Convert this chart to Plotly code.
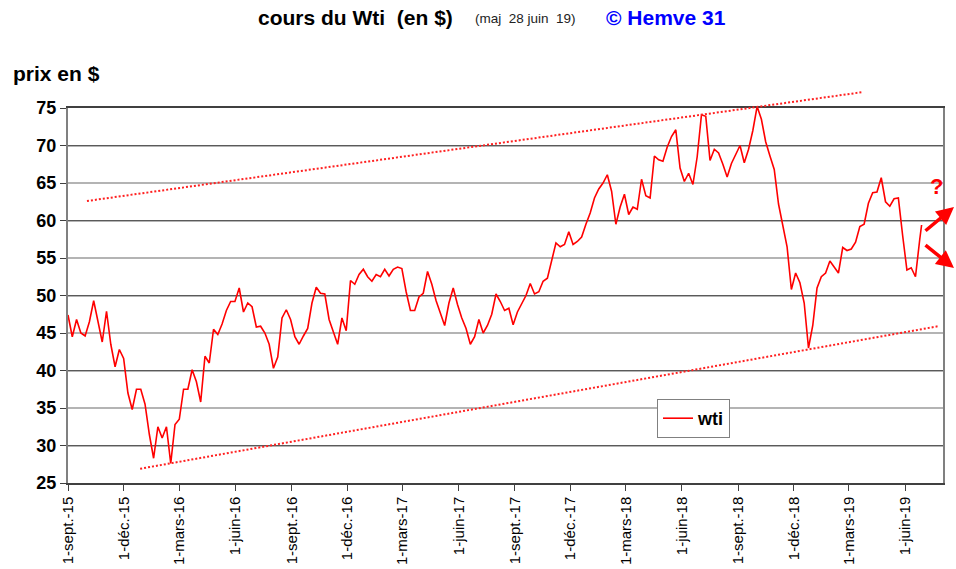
import plotly.graph_objects as go
import pandas as pd

# ---------------- data ----------------
dates = [
    "2015-09-01", "2015-09-08", "2015-09-15", "2015-09-22", "2015-09-29", "2015-10-06", "2015-10-13", "2015-10-20",
    "2015-10-27", "2015-11-03", "2015-11-10", "2015-11-17", "2015-11-24", "2015-12-01", "2015-12-08", "2015-12-15",
    "2015-12-22", "2015-12-29",
    "2016-01-05", "2016-01-12", "2016-01-19", "2016-01-26", "2016-02-02", "2016-02-09", "2016-02-16", "2016-02-23",
    "2016-03-01", "2016-03-08", "2016-03-15", "2016-03-22", "2016-03-29", "2016-04-05", "2016-04-12", "2016-04-19",
    "2016-04-26", "2016-05-03", "2016-05-10", "2016-05-17", "2016-05-24", "2016-05-31", "2016-06-07", "2016-06-14",
    "2016-06-21", "2016-06-28", "2016-07-05", "2016-07-12", "2016-07-19", "2016-07-26", "2016-08-02", "2016-08-09",
    "2016-08-16", "2016-08-23", "2016-08-30", "2016-09-06", "2016-09-13", "2016-09-20", "2016-09-27", "2016-10-04",
    "2016-10-11", "2016-10-18", "2016-10-25", "2016-11-01", "2016-11-08", "2016-11-15", "2016-11-22", "2016-11-29",
    "2016-12-06", "2016-12-13", "2016-12-20", "2016-12-27",
    "2017-01-03", "2017-01-10", "2017-01-17", "2017-01-24", "2017-01-31", "2017-02-07", "2017-02-14", "2017-02-21",
    "2017-02-28", "2017-03-07", "2017-03-14", "2017-03-21", "2017-03-28", "2017-04-04", "2017-04-11", "2017-04-18",
    "2017-04-25", "2017-05-02", "2017-05-09", "2017-05-16", "2017-05-23", "2017-05-30", "2017-06-06", "2017-06-13",
    "2017-06-20", "2017-06-27", "2017-07-04", "2017-07-11", "2017-07-18", "2017-07-25", "2017-08-01", "2017-08-08",
    "2017-08-15", "2017-08-22", "2017-08-29", "2017-09-05", "2017-09-12", "2017-09-19", "2017-09-26", "2017-10-03",
    "2017-10-10", "2017-10-17", "2017-10-24", "2017-10-31", "2017-11-07", "2017-11-14", "2017-11-21", "2017-11-28",
    "2017-12-05", "2017-12-12", "2017-12-19", "2017-12-26",
    "2018-01-02", "2018-01-09", "2018-01-16", "2018-01-23", "2018-01-30", "2018-02-06", "2018-02-13", "2018-02-20",
    "2018-02-27", "2018-03-06", "2018-03-13", "2018-03-20", "2018-03-27", "2018-04-03", "2018-04-10", "2018-04-17",
    "2018-04-24", "2018-05-01", "2018-05-08", "2018-05-15", "2018-05-22", "2018-05-29", "2018-06-05", "2018-06-12",
    "2018-06-19", "2018-06-26", "2018-07-03", "2018-07-10", "2018-07-17", "2018-07-24", "2018-07-31", "2018-08-07",
    "2018-08-14", "2018-08-21", "2018-08-28", "2018-09-04", "2018-09-11", "2018-09-18", "2018-09-25", "2018-10-02",
    "2018-10-09", "2018-10-16", "2018-10-23", "2018-10-30", "2018-11-06", "2018-11-13", "2018-11-20", "2018-11-27",
    "2018-12-04", "2018-12-11", "2018-12-18", "2018-12-25",
    "2019-01-01", "2019-01-08", "2019-01-15", "2019-01-22", "2019-01-29", "2019-02-05", "2019-02-12", "2019-02-19",
    "2019-02-26", "2019-03-05", "2019-03-12", "2019-03-19", "2019-03-26", "2019-04-02", "2019-04-09", "2019-04-16",
    "2019-04-23", "2019-04-30", "2019-05-07", "2019-05-14", "2019-05-21", "2019-05-28", "2019-06-04", "2019-06-11",
    "2019-06-18", "2019-06-25", "2019-06-28",
]

wti = [
    # 2015
    47.4, 44.5, 46.8, 45.0, 44.6, 46.5, 49.3, 46.3, 43.8, 47.9, 43.5, 40.5, 42.8, 41.6, 37.0, 34.8, 37.5, 37.5,
    # 2016
    35.5, 31.5, 28.3, 32.5, 31.0, 32.5, 27.6, 32.8, 33.5, 37.5, 37.5, 40.1, 38.5, 35.8, 41.9, 41.0,
    45.5, 44.8, 46.2, 48.0, 49.2, 49.2, 51.0, 47.8, 49.0, 48.5, 45.8, 45.9, 45.0, 43.5, 40.3, 41.8,
    47.0, 48.1, 46.8, 44.5, 43.5, 44.6, 45.6, 49.0, 51.1, 50.3, 50.2, 46.8, 45.0, 43.5, 47.0, 45.3,
    52.0, 51.5, 52.8, 53.5,
    # 2017
    52.5, 51.9, 52.8, 52.5, 53.5, 52.6, 53.5, 53.8, 53.6, 50.5, 48.0, 48.0, 49.8, 50.3, 53.2, 51.5,
    49.3, 47.5, 46.0, 49.0, 51.0, 48.8, 47.0, 45.6, 43.5, 44.5, 46.8, 45.0, 46.0, 47.5, 50.2, 49.2,
    48.0, 48.3, 46.1, 47.8, 48.8, 50.0, 51.6, 50.2, 50.5, 51.9, 52.3, 54.5, 57.0, 56.5, 56.8, 58.5,
    56.8, 57.2, 57.8, 59.5,
    # 2018
    61.0, 63.0, 64.2, 65.0, 66.1, 63.9, 59.5, 61.8, 63.5, 60.8, 61.8, 61.5, 65.5, 63.3, 63.0, 68.6,
    68.1, 67.9, 69.8, 71.2, 72.1, 67.0, 65.2, 66.3, 64.8, 68.5, 74.1, 73.9, 68.0, 69.5, 69.0, 67.5,
    65.8, 67.6, 68.9, 70.0, 67.7, 69.5, 72.0, 75.2, 73.5, 70.5, 68.6, 66.8, 62.2, 59.5, 56.5, 50.8,
    53.0, 51.7, 49.0, 43.0,
    # 2019
    46.0, 51.0, 52.5, 53.0, 54.6, 53.8, 53.0, 56.4, 56.0, 56.2, 57.1, 59.2, 59.5, 62.3, 63.7, 63.8,
    65.7, 62.5, 61.9, 62.9, 63.0, 58.0, 53.4, 53.7, 52.5, 57.5, 59.4,
]

tick_dates = [
    "2015-09-01", "2015-12-01", "2016-03-01", "2016-06-01", "2016-09-01", "2016-12-01", "2017-03-01",
    "2017-06-01", "2017-09-01", "2017-12-01", "2018-03-01", "2018-06-01", "2018-09-01", "2018-12-01",
    "2019-03-01", "2019-06-01",
]
tick_labels = [
    "1-sept.-15", "1-déc.-15", "1-mars-16", "1-juin-16", "1-sept.-16", "1-déc.-16", "1-mars-17",
    "1-juin-17", "1-sept.-17", "1-déc.-17", "1-mars-18", "1-juin-18", "1-sept.-18", "1-déc.-18",
    "1-mars-19", "1-juin-19",
]

x_range = ["2015-09-01", "2019-08-02"]
y_range = [25, 75]

# trend channel (hand-drawn lines on the original)
upper_trend_dates = ["2015-10-02", "2019-03-22"]
upper_trend_values = [62.6, 77.1]
lower_trend_dates = ["2015-12-28", "2019-07-25"]
lower_trend_values = [26.9, 45.9]

FONT = "Liberation Sans, Arial, sans-serif"

x0 = pd.Timestamp(x_range[0])
x1 = pd.Timestamp(x_range[1])


def xp(d):
    return (pd.Timestamp(d) - x0) / (x1 - x0)


def yp(v):
    return (v - y_range[0]) / (y_range[1] - y_range[0])


fig = go.Figure()

fig.add_trace(go.Scatter(
    x=dates, y=wti, mode="lines", name="wti",
    line=dict(color="#ff0000", width=1.6),
))
# helper trace for the darker every-10 gridlines
fig.add_trace(go.Scatter(x=[dates[0]], y=[None], yaxis="y2", showlegend=False,
                         hoverinfo="skip", mode="lines"))

shapes = []
for ds, vs in ((upper_trend_dates, upper_trend_values), (lower_trend_dates, lower_trend_values)):
    shapes.append(dict(
        type="line", xref="paper", yref="paper",
        x0=xp(ds[0]), y0=yp(vs[0]), x1=xp(ds[1]), y1=yp(vs[1]),
        line=dict(color="#ff2020", width=2, dash="2px,2px"), layer="above",
    ))

annotations = [
    dict(text="<b>cours du Wti&nbsp;&nbsp;(en $)</b>", xref="paper", yref="paper", x=(355 - 68) / 875,
         y=(483 - 17) / 375, showarrow=False, font=dict(family=FONT, size=21, color="black"),
         xanchor="center", yanchor="middle"),
    dict(text="(maj&nbsp;&nbsp;28 juin&nbsp;&nbsp;19)", xref="paper", yref="paper", x=(525 - 68) / 875,
         y=(483 - 18) / 375, showarrow=False, font=dict(family=FONT, size=13.5, color="#222222"),
         xanchor="center", yanchor="middle"),
    dict(text="<b>© Hemve 31</b>", xref="paper", yref="paper", x=(666 - 68) / 875, y=(483 - 17) / 375,
         showarrow=False, font=dict(family=FONT, size=21, color="#0000ff"), xanchor="center", yanchor="middle"),
    dict(text="<b>prix en $</b>", xref="paper", yref="paper", x=(11 - 68) / 875, y=(483 - 73) / 375,
         showarrow=False, font=dict(family=FONT, size=21, color="black"), xanchor="left", yanchor="middle"),
    dict(text="<b>?</b>", xref="paper", yref="paper", x=(936 - 68) / 875, y=(483 - 186) / 375,
         showarrow=False, font=dict(family=FONT, size=22, color="#ff0000"), xanchor="center", yanchor="middle"),
    dict(text="", xref="paper", yref="paper", x=(954 - 68) / 875, y=(483 - 207) / 375,
         ax=-30, ay=25, showarrow=True, arrowhead=2, arrowsize=1, arrowwidth=3.5, arrowcolor="#ff0000"),
    dict(text="", xref="paper", yref="paper", x=(954 - 68) / 875, y=(483 - 268) / 375,
         ax=-30, ay=-24, showarrow=True, arrowhead=2, arrowsize=1, arrowwidth=3.5, arrowcolor="#ff0000"),
]

fig.update_layout(
    width=956, height=569,
    margin=dict(l=68, r=13, t=108, b=86, autoexpand=False),
    paper_bgcolor="white", plot_bgcolor="white",
    font=dict(family=FONT, color="black"),
    showlegend=True,
    legend=dict(
        x=(657 - 68) / 875, y=(483 - 399) / 375, xanchor="left", yanchor="top",
        bgcolor="white", bordercolor="#808080", borderwidth=1,
        font=dict(family=FONT, size=18, color="black", weight="bold"),
        itemwidth=30,
    ),
    xaxis=dict(
        type="date", range=x_range, tickmode="array", tickvals=tick_dates, ticktext=tick_labels,
        tickangle=-90, tickfont=dict(family=FONT, size=15, color="black"),
        ticks="outside", ticklen=6, tickcolor="#404040",
        showgrid=False, showline=True, linecolor="#404040", linewidth=1.5, mirror=True,
        zeroline=False, automargin=False,
    ),
    yaxis=dict(
        range=y_range, tick0=25, dtick=5,
        tickfont=dict(family=FONT, size=18, color="black", weight="bold"),
        ticks="outside", ticklen=6, tickcolor="#404040",
        showgrid=True, gridcolor="#b4b4b4", gridwidth=2,
        showline=True, linecolor="#808080", linewidth=2, mirror=True,
        zeroline=False, automargin=False,
    ),
    yaxis2=dict(
        overlaying="y", range=y_range, tick0=30, dtick=10, showticklabels=False, ticks="",
        showgrid=True, gridcolor="#5a5a5a", gridwidth=1, showline=False, zeroline=False,
    ),
    shapes=shapes,
    annotations=annotations,
)

fig.write_html(
    "out.html",
    config={"displayModeBar": False},
    post_script="document.body.style.margin='0';document.body.style.overflow='hidden';",
)
